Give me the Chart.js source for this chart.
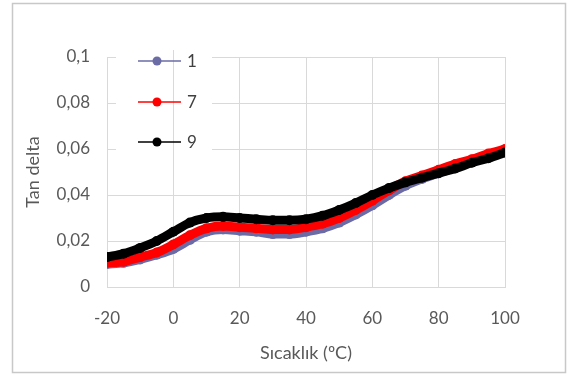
<!DOCTYPE html>
<html>
<head>
<meta charset="utf-8">
<script src="https://cdn.jsdelivr.net/npm/chart.js@4.4.1/dist/chart.umd.min.js"></script>
<style>
  body { margin: 0; background: #fff; }
  canvas { display: block; }
</style>
</head>
<body>
<canvas id="chart" width="569" height="376"></canvas>
<script>
// Sıcaklık (°C)
const temps = [-20, -15, -10, -5, 0, 5, 10, 15, 20, 25, 30, 35, 40, 45, 50, 55, 60, 65, 70, 75, 80, 85, 90, 95, 100];
// Tan delta, numune 1, 7, 9
const s1 = [0.0100, 0.0105, 0.0120, 0.0140, 0.0165, 0.0205, 0.0240, 0.0250, 0.0245, 0.0240, 0.0230, 0.0230, 0.0240,
            0.0255, 0.0280, 0.0315, 0.0355, 0.0400, 0.0440, 0.0470, 0.0495, 0.0520, 0.0545, 0.0570, 0.0595];
const s7 = [0.0105, 0.0110, 0.0130, 0.0150, 0.0185, 0.0225, 0.0255, 0.0265, 0.0260, 0.0255, 0.0250, 0.0250, 0.0260,
            0.0275, 0.0300, 0.0335, 0.0375, 0.0420, 0.0460, 0.0485, 0.0510, 0.0535, 0.0555, 0.0580, 0.0600];
const s9 = [0.0130, 0.0145, 0.0170, 0.0200, 0.0240, 0.0280, 0.0300, 0.0305, 0.0300, 0.0295, 0.0290, 0.0290, 0.0295,
            0.0310, 0.0335, 0.0365, 0.0400, 0.0430, 0.0455, 0.0475, 0.0495, 0.0515, 0.0540, 0.0560, 0.0585];
const seriesNames = ["1", "7", "9"];
const seriesColors = ["#6b6ba6", "#ff0000", "#000000"];

const FONT = "Lato, 'Open Sans', sans-serif";
const GRID = "#d9d9d9";

const toPoints = (vals) => vals.map((v, i) => ({ x: temps[i], y: v }));

function makeSet(idx, vals, order) {
  return {
    label: seriesNames[idx],
    data: toPoints(vals),
    borderColor: seriesColors[idx],
    backgroundColor: seriesColors[idx],
    borderWidth: 9,
    pointRadius: 5,
    pointBorderWidth: 0,
    cubicInterpolationMode: "monotone",
    order: order
  };
}

// cerceve + legend (Excel tarzi)
const excelLook = {
  id: "excelLook",
  beforeDraw(chart) {
    const ctx = chart.ctx;
    ctx.save();
    ctx.fillStyle = "#fff";
    ctx.fillRect(0, 0, chart.width, chart.height);
    ctx.strokeStyle = "#c8c8c8";
    ctx.lineWidth = 1.5;
    ctx.strokeRect(12.5, 3.5, 553, 369);
    ctx.restore();
  },
  beforeDatasetsDraw(chart) {
    const ctx = chart.ctx;
    const x0 = chart.scales.x.getPixelForValue(0);
    ctx.save();
    ctx.fillStyle = "#fff";
    ctx.fillRect(116, 50, 96, 103);
    ctx.strokeStyle = GRID;
    ctx.lineWidth = 1;
    ctx.beginPath();
    ctx.moveTo(Math.round(x0) + 0.5, 50);
    ctx.lineTo(Math.round(x0) + 0.5, 153);
    ctx.stroke();
    ctx.restore();
  },
  afterDraw(chart) {
    const ctx = chart.ctx;
    const rows = [61, 102, 142];
    ctx.save();
    ctx.font = "17px " + FONT;
    ctx.textBaseline = "middle";
    rows.forEach((y, i) => {
      ctx.strokeStyle = seriesColors[i];
      ctx.lineWidth = 1.5;
      ctx.beginPath();
      ctx.moveTo(138, y);
      ctx.lineTo(181, y);
      ctx.stroke();
      ctx.fillStyle = seriesColors[i];
      ctx.beginPath();
      ctx.arc(157, y, 4.5, 0, Math.PI * 2);
      ctx.fill();
      ctx.fillStyle = "#404040";
      ctx.fillText(seriesNames[i], 187, y + 1);
    });
    ctx.restore();
  }
};

new Chart(document.getElementById("chart"), {
  type: "line",
  data: {
    datasets: [makeSet(0, s1, 3), makeSet(1, s7, 2), makeSet(2, s9, 1)]
  },
  options: {
    responsive: false,
    animation: false,
    layout: { padding: { top: 57, right: 64, left: 0, bottom: 0 } },
    plugins: { legend: { display: false }, tooltip: { enabled: false } },
    scales: {
      x: {
        type: "linear",
        min: -20,
        max: 100,
        ticks: { stepSize: 20, padding: 21, color: "#595959", font: { family: FONT, size: 17 } },
        grid: { color: GRID, drawTicks: false },
        border: { color: GRID },
        title: { display: true, text: "Sıcaklık (ºC)", color: "#595959", font: { family: FONT, size: 18 }, padding: { bottom: 12, top: 0 } },
        afterFit(scale) { scale.height = 89; }
      },
      y: {
        min: 0,
        max: 0.1,
        ticks: {
          stepSize: 0.02,
          padding: 17,
          color: "#595959",
          font: { family: FONT, size: 17 },
          callback: (v) => (v === 0 ? "0" : String(Math.round(v * 100) / 100).replace(".", ","))
        },
        grid: { color: GRID, drawTicks: false },
        border: { color: GRID },
        title: { display: true, text: "Tan delta", color: "#595959", font: { family: FONT, size: 18 }, padding: { top: 22, bottom: 0 } },
        afterFit(scale) { scale.width = 107; }
      }
    }
  },
  plugins: [excelLook]
});
</script>
</body>
</html>
